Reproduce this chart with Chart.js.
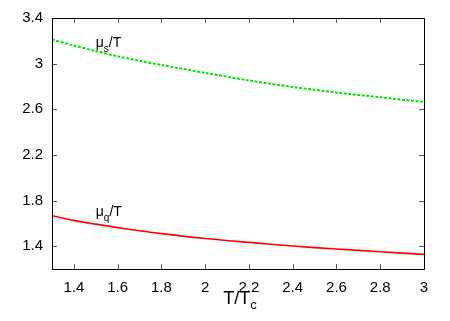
<!DOCTYPE html>
<html>
<head>
<meta charset="utf-8">
<script src="https://cdn.jsdelivr.net/npm/chart.js@4"></script>
<style>
  body { margin: 0; background: #fff; }
  canvas { display: block; }
</style>
</head>
<body>
<canvas id="chart" width="450" height="321"></canvas>
<script>
// values
const temps = [1.3, 1.4, 1.5, 1.6, 1.7, 1.8, 2.0, 2.2, 2.4, 2.6, 2.8, 3.0]
const muS = [3.211, 3.159, 3.11, 3.064, 3.025, 2.988, 2.919, 2.853, 2.796, 2.747, 2.705, 2.664]
const muQ = [1.667, 1.626, 1.593, 1.563, 1.535, 1.510, 1.467, 1.433, 1.401, 1.375, 1.351, 1.328]

const xTicks = [1.4, 1.6, 1.8, 2, 2.2, 2.4, 2.6, 2.8, 3]
const yTicks = [1.4, 1.8, 2.2, 2.6, 3, 3.4]

// curve labels: [main, subscript, rest, x, y]
const curveLabels = [
  ["μ", "s", "/T", 1.5, 3.144],
  ["μ", "q", "/T", 1.5, 1.661]
]

const FONT = "'Liberation Sans', Arial, sans-serif"

function toPoints(xs, ys) {
  return xs.map((x, i) => ({ x: x, y: ys[i] }))
}

// frame, inward ticks on all four sides, curve labels and axis title
const gnuplotFrame = {
  id: "gnuplotFrame",
  afterDatasetsDraw(chart) {
    const { ctx, chartArea: a, scales } = chart
    ctx.save()

    // tick marks
    ctx.strokeStyle = "#555"
    ctx.lineWidth = 1
    ctx.beginPath()
    xTicks.forEach(v => {
      const px = Math.round(scales.x.getPixelForValue(v)) + 0.5
      ctx.moveTo(px, a.bottom); ctx.lineTo(px, a.bottom - 5)
      ctx.moveTo(px, a.top); ctx.lineTo(px, a.top + 5)
    })
    yTicks.forEach(v => {
      const py = Math.round(scales.y.getPixelForValue(v)) + 0.5
      ctx.moveTo(a.left, py); ctx.lineTo(a.left + 5, py)
      ctx.moveTo(a.right, py); ctx.lineTo(a.right - 5, py)
    })
    ctx.stroke()

    // border
    ctx.strokeStyle = "#000"
    ctx.strokeRect(Math.round(a.left) + 0.5, Math.round(a.top) + 0.5,
      Math.round(a.right - a.left), Math.round(a.bottom - a.top))

    // curve labels
    ctx.fillStyle = "#000"
    ctx.textBaseline = "alphabetic"
    ctx.textAlign = "left"
    curveLabels.forEach(([main, sub, rest, lx, ly]) => {
      let px = scales.x.getPixelForValue(lx)
      const py = scales.y.getPixelForValue(ly)
      ctx.font = "14px " + FONT
      ctx.fillText(main, px, py)
      px += ctx.measureText(main).width
      ctx.font = "10px " + FONT
      ctx.fillText(sub, px, py + 5)
      px += ctx.measureText(sub).width
      ctx.font = "14px " + FONT
      ctx.fillText(rest, px, py)
    })

    // x axis title T/Tc
    const cx = (a.left + a.right) / 2 + 2
    ctx.font = "18px " + FONT
    const mainW = ctx.measureText("T/T").width
    ctx.font = "13px " + FONT
    const subW = ctx.measureText("c").width
    let tx = cx - (mainW + subW) / 2
    ctx.font = "18px " + FONT
    ctx.fillText("T/T", tx, 304)
    ctx.font = "13px " + FONT
    ctx.fillText("c", tx + mainW, 309)

    ctx.restore()
  }
}

new Chart(document.getElementById("chart"), {
  type: "line",
  data: {
    datasets: [
      {
        label: "μs/T",
        data: toPoints(temps, muS),
        borderColor: "#00e600",
        borderWidth: 2,
        borderDash: [3, 1.5],
        pointRadius: 0,
        tension: 0.3,
        fill: false
      },
      {
        label: "μq/T",
        data: toPoints(temps, muQ),
        borderColor: "#ff0000",
        borderWidth: 1.6,
        pointRadius: 0,
        tension: 0.3,
        fill: false
      }
    ]
  },
  options: {
    responsive: false,
    animation: false,
    layout: { padding: { left: 0, top: 17, right: 26, bottom: 0 } },
    plugins: {
      legend: { display: false },
      tooltip: { enabled: false }
    },
    scales: {
      x: {
        type: "linear",
        min: 1.3,
        max: 3,
        afterBuildTicks: s => { s.ticks = xTicks.map(v => ({ value: v })) },
        afterFit: s => { s.height = 52 },
        grid: { display: false, drawTicks: false },
        border: { display: false },
        ticks: {
          padding: 10,
          color: "#000",
          font: { family: FONT, size: 15 },
          maxRotation: 0,
          callback: v => String(Math.round(v * 10) / 10)
        }
      },
      y: {
        type: "linear",
        min: 1.2,
        max: 3.4,
        afterBuildTicks: s => { s.ticks = yTicks.map(v => ({ value: v })) },
        afterFit: s => { s.width = 52 },
        grid: { display: false, drawTicks: false },
        border: { display: false },
        ticks: {
          padding: 9,
          color: "#000",
          font: { family: FONT, size: 15 },
          callback: v => String(Math.round(v * 10) / 10)
        }
      }
    }
  },
  plugins: [gnuplotFrame]
})
</script>
</body>
</html>
